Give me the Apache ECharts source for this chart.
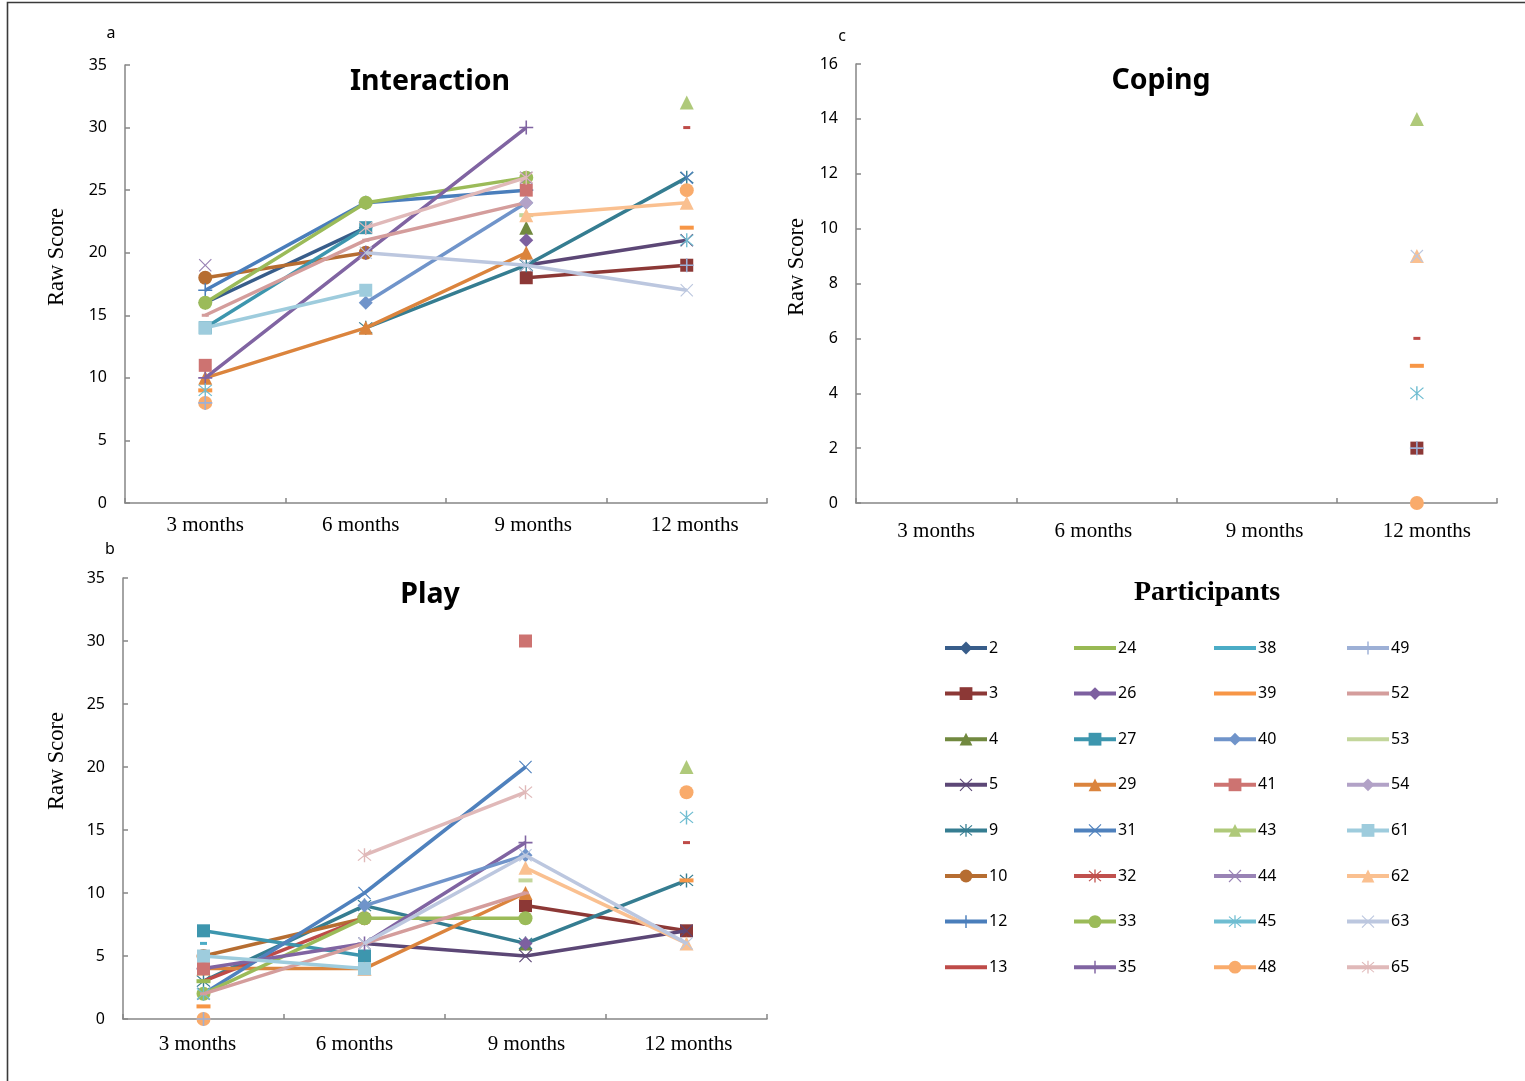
<!DOCTYPE html>
<html><head><meta charset="utf-8">
<script src="https://cdn.jsdelivr.net/npm/echarts@6/dist/echarts.min.js"></script>
<style>html,body{margin:0;padding:0;background:#fff}#c{width:1525px;height:1081px}</style>
</head><body><div id="c"></div>
<script>
// ---------------- data ----------------
const categories = ['3 months', '6 months', '9 months', '12 months'];
const participants = ['2','3','4','5','9','10','12','13','24','26','27','29','31','32','33','35',
                      '38','39','40','41','43','44','45','48','49','52','53','54','61','62','63','65'];
const N = null;
// Interaction raw scores (3, 6, 9, 12 months), same order as participants
const interactionScores = [
  [16,22,N,N],[N,N,18,19],[N,N,22,N],[N,N,19,21],[N,14,19,26],[18,20,N,N],[17,24,25,N],[N,N,N,30],
  [N,N,N,N],[N,N,21,N],[14,22,N,N],[10,14,20,N],[N,N,N,26],[N,N,N,N],[16,24,26,N],[10,20,30,N],
  [N,N,N,N],[9,N,N,22],[N,16,24,N],[11,N,25,N],[N,N,N,32],[19,N,26,N],[9,N,N,21],[8,N,N,25],
  [8,N,N,19],[15,21,24,N],[N,N,23,N],[N,N,24,N],[14,17,N,N],[N,N,23,24],[N,20,19,17],[N,22,26,N]
];
// Play raw scores
const playScores = [
  [N,N,N,N],[N,N,9,7],[N,N,6,N],[N,6,5,7],[3,9,6,11],[5,8,N,N],[N,N,N,N],[3,8,N,14],
  [3,N,N,N],[N,N,6,N],[7,5,N,N],[4,4,10,N],[2,10,20,N],[N,N,N,N],[2,8,8,N],[4,6,14,N],
  [6,N,N,N],[1,N,N,11],[N,9,13,N],[4,N,30,N],[N,N,N,20],[N,N,N,N],[2,N,N,16],[0,N,N,18],
  [0,N,N,N],[2,6,10,N],[N,N,11,N],[N,N,N,N],[5,4,N,N],[N,N,12,6],[N,6,13,6],[N,13,18,N]
];
// Coping raw scores
const copingScores = [
  [N,N,N,N],[N,N,N,2],[N,N,N,N],[N,N,N,N],[N,N,N,N],[N,N,N,N],[N,N,N,N],[N,N,N,6],
  [N,N,N,N],[N,N,N,N],[N,N,N,N],[N,N,N,N],[N,N,N,N],[N,N,N,N],[N,N,N,N],[N,N,N,N],
  [N,N,N,N],[N,N,N,5],[N,N,N,N],[N,N,N,N],[N,N,N,14],[N,N,N,N],[N,N,N,4],[N,N,N,0],
  [N,N,N,2],[N,N,N,N],[N,N,N,N],[N,N,N,N],[N,N,N,N],[N,N,N,9],[N,N,N,9],[N,N,N,N]
];
const scoreTicks35 = [0, 35, 5];
const scoreTicks16 = [0, 16, 2];

// ---------------- styles ----------------
const seriesColors = ['#385D8A','#8C3836','#71893F','#5C4776','#357D91','#B66D31','#4A7EBB','#BE4B48',
  '#98B954','#7D60A0','#3D96AE','#DB843D','#4F81BD','#C0504D','#9BBB59','#8064A2',
  '#4BACC6','#F79646','#7094CA','#CD7371','#AFC97A','#9983B5','#6FBDD1','#F9AB6B',
  '#9DB0D6','#D49D9C','#C3D69B','#B2A2C7','#9ECCDD','#FAC090','#BCC7DF','#E0B9B9'];
const P_X = 'path://M-8,-7L-7,-8L0,-1L7,-8L8,-7L1,0L8,7L7,8L0,1L-7,8L-8,7L-1,0Z';
const P_PLUS = 'path://M-0.9,-8H0.9V-0.9H8V0.9H0.9V8H-0.9V0.9H-8V-0.9H-0.9Z';
const P_AST = 'path://M-8,-7L-7,-8L0,-1L7,-8L8,-7L1,0L8,7L7,8L0,1L-7,8L-8,7L-1,0ZM-0.8,-9.5H0.8V9.5H-0.8Z';
const markerDefs = [
  {symbol:'diamond', size:14},
  {symbol:'rect', size:13},
  {symbol:'triangle', size:14},
  {symbol:P_X, size:13},
  {symbol:P_AST, size:14},
  {symbol:'circle', size:14},
  {symbol:P_PLUS, size:14},
  {symbol:'rect', size:[7,3], dash:true},
  {symbol:'rect', size:[14,4], dash:true}
];
const DASH_ICON = 'path://M0,0L0,0ZM0,6H42V10H0ZM0,16L0,16Z';
const axisGrey = '#868686';
const sans = 'Noto Sans';
const serif = 'Liberation Serif';
// horizontal nudges of category labels (px) per panel: a, c, b
const labelShift = [[0,-5,7,8],[0,-3,8,10],[-6,-10,1,2]];

const chart = echarts.init(document.getElementById('c'), null, {renderer:'canvas'});

function xAxisFor(gridIndex, margin, shifts) {
  const rich = {};
  shifts.forEach((d, k) => {
    rich['s' + k] = {fontFamily:serif, fontSize:21, color:'#000',
      padding: d >= 0 ? [0,0,0,2*d] : [0,-2*d,0,0]};
  });
  return {
    gridIndex, type:'category', data:categories, boundaryGap:true,
    axisLine:{lineStyle:{color:axisGrey, width:1.5}},
    axisTick:{show:true, inside:true, length:5, interval:0, lineStyle:{color:axisGrey, width:1.5}},
    axisLabel:{fontFamily:serif, fontSize:21, color:'#000', margin:margin, interval:0, hideOverlap:false,
      formatter:(v, idx) => '{s' + idx + '|' + v + '}', rich},
    splitLine:{show:false}
  };
}
function yAxisFor(gridIndex, ticks) {
  return {
    gridIndex, type:'value', min:ticks[0], max:ticks[1], interval:ticks[2],
    axisLine:{show:true, lineStyle:{color:axisGrey, width:1.5}},
    axisTick:{show:true, inside:true, length:5, lineStyle:{color:axisGrey, width:1.5}},
    axisLabel:{fontFamily:sans, fontSize:16, color:'#000', margin:18},
    splitLine:{show:false}
  };
}

const series = [];
const panels = [interactionScores, copingScores, playScores];
panels.forEach((panel, pi) => {
  participants.forEach((p, i) => {
    const m = markerDefs[i % 9];
    series.push({
      type:'line', name:p, xAxisIndex:pi, yAxisIndex:pi,
      data:panel[i], connectNulls:false,
      symbol:m.symbol, symbolSize:m.size, showSymbol:true, showAllSymbol:true,
      lineStyle:{width:3.5, color:seriesColors[i]},
      itemStyle:{color:seriesColors[i], borderWidth:0},
      emphasis:{disabled:true}, animation:false, z:2+i*0.01
    });
  });
});

const legends = [0,1,2,3].map(c => ({
  orient:'vertical', left:[943,1072,1212,1345][c], top:640, padding:0,
  itemWidth:42, itemHeight:16, itemGap:29.6,
  selectedMode:false,
  lineStyle:{width:4},
  textStyle:{fontFamily:sans, fontSize:16, color:'#000', lineHeight:16, padding:[0,0,0,-3]},
  data: participants.slice(c*8, c*8+8).map((p, k) => {
    const i = c*8 + k;
    const m = markerDefs[i % 9];
    return m.dash ? {name:p, icon:DASH_ICON} : {name:p};
  })
}));

function txt(x, y, text, font, extra) {
  return Object.assign({type:'text', x, y, silent:true,
    style:{text, font, fill:'#000', align:'center', verticalAlign:'middle'}}, extra || {});
}

chart.setOption({
  animation:false,
  backgroundColor:'#fff',
  grid:[
    {left:125, top:65, width:642, height:438},
    {left:856, top:64, width:641, height:439},
    {left:123, top:578, width:644, height:441}
  ],
  xAxis:[xAxisFor(0, 12, labelShift[0]), xAxisFor(1, 18, labelShift[1]), xAxisFor(2, 15, labelShift[2])],
  yAxis:[yAxisFor(0, scoreTicks35), yAxisFor(1, scoreTicks16), yAxisFor(2, scoreTicks35)],
  legend:legends,
  series:series,
  graphic:[
    {type:'polyline', silent:true, shape:{points:[[7.5,1081],[7.5,2.5],[1525,2.5]]},
     style:{stroke:'#3a3a3a', lineWidth:1.6, fill:null}},
    txt(111, 33, 'a', '16px "Noto Sans"'),
    txt(110, 549, 'b', '16px "Noto Sans"'),
    txt(842, 36, 'c', '16px "Noto Sans"'),
    txt(430, 82, 'Interaction', 'bold 28.5px "Noto Sans"'),
    txt(1161, 81, 'Coping', 'bold 28.5px "Noto Sans"'),
    txt(430, 595, 'Play', 'bold 28.5px "Noto Sans"'),
    txt(1207, 593, 'Participants', 'bold 28px "Liberation Serif"'),
    txt(57, 257, 'Raw Score', '22.5px "Liberation Serif"', {rotation:Math.PI/2}),
    txt(797, 267, 'Raw Score', '22.5px "Liberation Serif"', {rotation:Math.PI/2}),
    txt(57, 761, 'Raw Score', '22.5px "Liberation Serif"', {rotation:Math.PI/2})
  ]
});
</script>
</body></html>
